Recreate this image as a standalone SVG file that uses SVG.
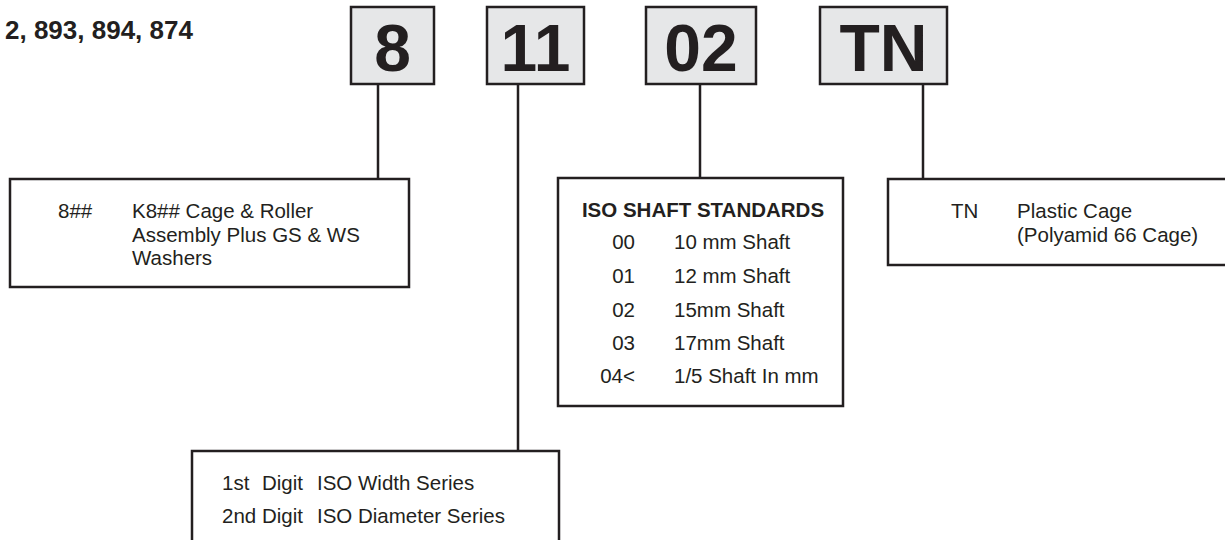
<svg xmlns="http://www.w3.org/2000/svg" width="1225" height="540" viewBox="0 0 1225 540">
<style>
.code{fill:#e6e7e8;stroke:#231f20;stroke-width:2.5}
.box{fill:#ffffff;stroke:#231f20;stroke-width:2.5}
.big{font-family:"Liberation Sans",Arial,sans-serif;font-weight:bold;font-size:66px;fill:#231f20;text-anchor:middle}
.t{font-family:"Liberation Sans",Arial,sans-serif;font-size:20.5px;fill:#231f20}
.b{font-family:"Liberation Sans",Arial,sans-serif;font-size:20.5px;font-weight:bold;fill:#231f20}
.e{text-anchor:end}
.c{text-anchor:middle}
.conn line{stroke:#231f20;stroke-width:2.5}
</style>
<rect width="1225" height="540" fill="#ffffff"/>
<text x="5" y="39" class="b" style="font-size:26px">2, 893, 894, 874</text>
<g class="conn" id="connectors">
<line x1="378" y1="84" x2="378" y2="179"/>
<line x1="518" y1="84" x2="518" y2="451"/>
<line x1="700" y1="84" x2="700" y2="178"/>
<line x1="923" y1="84" x2="923" y2="179"/>
</g>
<g id="code-8"><rect class="code" x="351" y="7" width="83" height="77"/><text class="big" x="392.5" y="71">8</text></g>
<g id="code-11"><rect class="code" x="487" y="7" width="97" height="77"/><text class="big" x="535.5" y="71">11</text></g>
<g id="code-02"><rect class="code" x="646" y="7" width="110" height="77"/><text class="big" x="701" y="71">02</text></g>
<g id="code-TN"><rect class="code" x="820" y="7" width="127" height="77"/><text class="big" x="883.5" y="71">TN</text></g>
<g id="desc-8">
<rect class="box" x="10" y="179" width="399" height="108"/>
<text class="t" x="58" y="218">8##</text>
<text class="t" x="132" y="218">K8## Cage &amp; Roller</text>
<text class="t" x="132" y="242">Assembly Plus GS &amp; WS</text>
<text class="t" x="132" y="265">Washers</text>
</g>
<g id="desc-02">
<rect class="box" x="558" y="178" width="285" height="228"/>
<text class="b c" x="703" y="217">ISO SHAFT STANDARDS</text>
<text class="t e" x="635" y="249">00</text><text class="t" x="674" y="249">10 mm Shaft</text>
<text class="t e" x="635" y="283">01</text><text class="t" x="674" y="283">12 mm Shaft</text>
<text class="t e" x="635" y="317">02</text><text class="t" x="674" y="317">15mm Shaft</text>
<text class="t e" x="635" y="350">03</text><text class="t" x="674" y="350">17mm Shaft</text>
<text class="t e" x="635" y="383">04&lt;</text><text class="t" x="674" y="383">1/5 Shaft In mm</text>
</g>
<g id="desc-TN">
<rect class="box" x="888" y="179" width="345" height="86"/>
<text class="t" x="951" y="218">TN</text>
<text class="t" x="1017" y="218">Plastic Cage</text>
<text class="t" x="1017" y="242">(Polyamid 66 Cage)</text>
</g>
<g id="desc-11">
<rect class="box" x="192" y="451" width="367" height="100"/>
<text class="t" x="222" y="490">1st</text><text class="t" x="262" y="490">Digit</text><text class="t" x="317" y="490">ISO Width Series</text>
<text class="t" x="222" y="523">2nd</text><text class="t" x="262" y="523">Digit</text><text class="t" x="317" y="523">ISO Diameter Series</text>
</g>
</svg>
